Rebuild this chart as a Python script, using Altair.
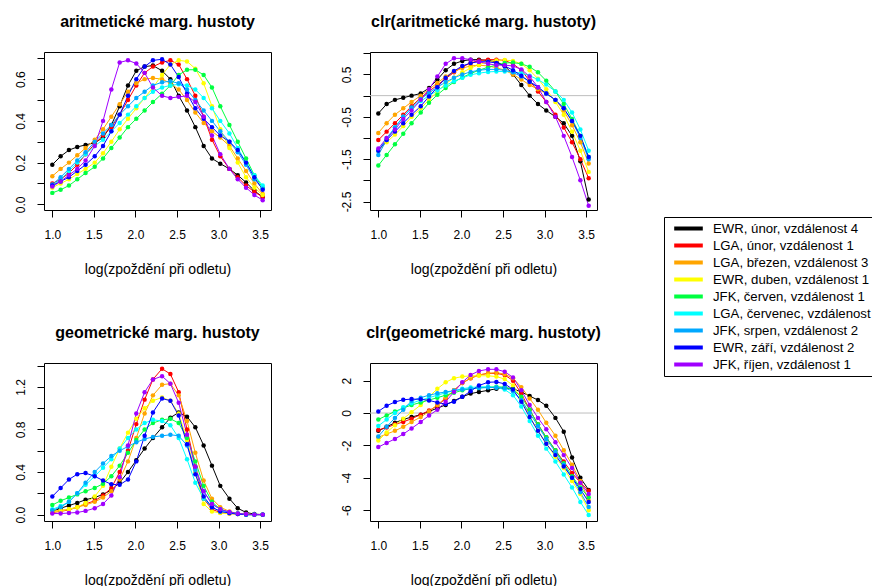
import altair as alt
import pandas as pd

FONT = "Liberation Sans, Arial, Helvetica, sans-serif"

series_names = [
    "EWR, únor, vzdálenost 4",
    "LGA, únor, vzdálenost 1",
    "LGA, březen, vzdálenost 3",
    "EWR, duben, vzdálenost 1",
    "JFK, červen, vzdálenost 1",
    "LGA, červenec, vzdálenost 3",
    "JFK, srpen, vzdálenost 2",
    "EWR, září, vzdálenost 2",
    "JFK, říjen, vzdálenost 1",
]
series_colors = ["#000000", "#FF0000", "#FFA500", "#FFFF00", "#00FF40",
                 "#00FFFF", "#00A8FF", "#0000FF", "#A000FF"]

x_grid = [1.00, 1.10, 1.20, 1.30, 1.40, 1.51, 1.61, 1.71, 1.81, 1.91, 2.01, 2.11, 2.21,
          2.32, 2.42, 2.52, 2.62, 2.72, 2.82, 2.92, 3.02, 3.13, 3.23, 3.33, 3.43, 3.53]
x_ticks = [1.0, 1.5, 2.0, 2.5, 3.0, 3.5]

# aritmetické marg. hustoty (order = series_names)
arit = [
    [0.19, 0.23, 0.26, 0.275, 0.285, 0.295, 0.32, 0.38, 0.47, 0.57, 0.64, 0.66, 0.665, 0.64, 0.60, 0.52, 0.45, 0.37, 0.28, 0.22, 0.195, 0.17, 0.14, 0.105, 0.065, 0.035],
    [0.10, 0.12, 0.15, 0.19, 0.24, 0.29, 0.33, 0.37, 0.43, 0.50, 0.57, 0.63, 0.66, 0.68, 0.69, 0.67, 0.60, 0.52, 0.42, 0.31, 0.23, 0.17, 0.13, 0.09, 0.06, 0.035],
    [0.135, 0.17, 0.20, 0.235, 0.27, 0.31, 0.36, 0.42, 0.48, 0.54, 0.58, 0.60, 0.605, 0.60, 0.58, 0.55, 0.50, 0.44, 0.39, 0.35, 0.32, 0.28, 0.22, 0.16, 0.10, 0.05],
    [0.08, 0.10, 0.12, 0.145, 0.17, 0.20, 0.245, 0.30, 0.36, 0.41, 0.46, 0.51, 0.56, 0.62, 0.67, 0.69, 0.685, 0.65, 0.58, 0.47, 0.36, 0.27, 0.20, 0.13, 0.08, 0.045],
    [0.055, 0.07, 0.09, 0.12, 0.15, 0.18, 0.22, 0.27, 0.32, 0.37, 0.41, 0.45, 0.49, 0.53, 0.57, 0.62, 0.645, 0.645, 0.62, 0.56, 0.47, 0.38, 0.30, 0.22, 0.14, 0.08],
    [0.09, 0.12, 0.16, 0.20, 0.24, 0.28, 0.31, 0.35, 0.39, 0.43, 0.47, 0.51, 0.54, 0.56, 0.57, 0.575, 0.57, 0.55, 0.51, 0.46, 0.40, 0.34, 0.27, 0.20, 0.14, 0.09],
    [0.095, 0.13, 0.17, 0.21, 0.25, 0.30, 0.34, 0.38, 0.43, 0.47, 0.51, 0.54, 0.57, 0.585, 0.59, 0.58, 0.55, 0.50, 0.45, 0.40, 0.35, 0.30, 0.25, 0.19, 0.12, 0.075],
    [0.09, 0.11, 0.13, 0.16, 0.19, 0.23, 0.28, 0.35, 0.43, 0.52, 0.60, 0.66, 0.69, 0.695, 0.67, 0.61, 0.53, 0.46, 0.41, 0.37, 0.33, 0.30, 0.26, 0.20, 0.13, 0.07],
    [0.085, 0.11, 0.14, 0.17, 0.21, 0.28, 0.40, 0.55, 0.68, 0.69, 0.675, 0.63, 0.56, 0.52, 0.51, 0.515, 0.52, 0.49, 0.42, 0.33, 0.24, 0.17, 0.12, 0.08, 0.045, 0.02],
]

# clr(aritmetické marg. hustoty)
clr_arit = [
    [-0.42, -0.20, -0.10, -0.05, 0.00, 0.05, 0.18, 0.38, 0.60, 0.75, 0.82, 0.85, 0.85, 0.83, 0.80, 0.70, 0.50, 0.25, 0.00, -0.20, -0.35, -0.50, -0.65, -0.95, -1.55, -2.45],
    [-1.05, -0.85, -0.65, -0.45, -0.25, -0.05, 0.10, 0.25, 0.40, 0.55, 0.68, 0.77, 0.83, 0.85, 0.85, 0.83, 0.75, 0.60, 0.35, 0.10, -0.15, -0.45, -0.75, -1.10, -1.50, -1.95],
    [-0.88, -0.65, -0.45, -0.30, -0.15, 0.00, 0.15, 0.30, 0.45, 0.57, 0.65, 0.70, 0.72, 0.70, 0.66, 0.60, 0.50, 0.38, 0.25, 0.15, 0.05, -0.10, -0.35, -0.70, -1.10, -1.60],
    [-1.30, -1.10, -0.92, -0.72, -0.50, -0.30, -0.10, 0.10, 0.28, 0.42, 0.55, 0.65, 0.73, 0.80, 0.83, 0.84, 0.82, 0.75, 0.60, 0.40, 0.15, -0.15, -0.45, -0.85, -1.30, -1.80],
    [-1.65, -1.40, -1.15, -0.90, -0.65, -0.40, -0.17, 0.02, 0.18, 0.32, 0.43, 0.52, 0.60, 0.67, 0.72, 0.77, 0.78, 0.75, 0.68, 0.55, 0.35, 0.10, -0.20, -0.55, -0.95, -1.45],
    [-1.30, -1.00, -0.75, -0.50, -0.30, -0.13, 0.00, 0.12, 0.24, 0.34, 0.42, 0.49, 0.53, 0.56, 0.57, 0.57, 0.56, 0.53, 0.47, 0.38, 0.26, 0.10, -0.10, -0.40, -0.80, -1.30],
    [-1.40, -1.05, -0.75, -0.50, -0.28, -0.08, 0.07, 0.20, 0.32, 0.42, 0.50, 0.56, 0.60, 0.62, 0.62, 0.60, 0.55, 0.45, 0.33, 0.20, 0.05, -0.10, -0.30, -0.60, -1.00, -1.50],
    [-1.30, -1.05, -0.85, -0.65, -0.45, -0.25, -0.02, 0.20, 0.42, 0.58, 0.70, 0.77, 0.80, 0.80, 0.77, 0.70, 0.60, 0.47, 0.33, 0.20, 0.05, -0.10, -0.30, -0.60, -0.95, -1.45],
    [-1.25, -1.00, -0.80, -0.55, -0.35, -0.10, 0.15, 0.45, 0.75, 0.88, 0.88, 0.85, 0.80, 0.75, 0.72, 0.72, 0.70, 0.62, 0.45, 0.20, -0.15, -0.50, -0.95, -1.45, -2.00, -2.60],
]

# geometrické marg. hustoty
geom = [
    [0.03, 0.06, 0.085, 0.11, 0.14, 0.16, 0.19, 0.23, 0.30, 0.40, 0.51, 0.62, 0.72, 0.82, 0.91, 0.96, 0.92, 0.82, 0.65, 0.46, 0.27, 0.15, 0.06, 0.02, 0.005, 0.0],
    [0.02, 0.03, 0.045, 0.07, 0.10, 0.13, 0.18, 0.25, 0.40, 0.60, 0.85, 1.08, 1.27, 1.37, 1.32, 1.15, 0.80, 0.45, 0.15, 0.05, 0.02, 0.01, 0.005, 0.0, 0.0, 0.0],
    [0.03, 0.04, 0.05, 0.07, 0.09, 0.12, 0.16, 0.22, 0.33, 0.50, 0.72, 0.95, 1.12, 1.22, 1.23, 1.12, 0.88, 0.58, 0.32, 0.15, 0.07, 0.03, 0.01, 0.005, 0.0, 0.0],
    [0.03, 0.035, 0.05, 0.07, 0.11, 0.17, 0.27, 0.45, 0.62, 0.77, 0.90, 1.00, 1.07, 1.10, 1.07, 0.95, 0.70, 0.40, 0.10, 0.03, 0.015, 0.01, 0.005, 0.0, 0.0, 0.0],
    [0.09, 0.13, 0.16, 0.19, 0.22, 0.25, 0.29, 0.36, 0.46, 0.58, 0.70, 0.80, 0.86, 0.89, 0.90, 0.86, 0.72, 0.50, 0.27, 0.12, 0.05, 0.02, 0.01, 0.0, 0.0, 0.0],
    [0.05, 0.08, 0.12, 0.20, 0.28, 0.36, 0.44, 0.52, 0.62, 0.72, 0.80, 0.86, 0.89, 0.88, 0.84, 0.72, 0.52, 0.30, 0.15, 0.07, 0.03, 0.015, 0.005, 0.0, 0.0, 0.0],
    [0.04, 0.07, 0.12, 0.20, 0.30, 0.40, 0.48, 0.55, 0.60, 0.64, 0.68, 0.71, 0.73, 0.74, 0.75, 0.74, 0.65, 0.42, 0.22, 0.10, 0.05, 0.02, 0.01, 0.0, 0.0, 0.0],
    [0.17, 0.25, 0.33, 0.38, 0.39, 0.36, 0.32, 0.285, 0.28, 0.33, 0.50, 0.74, 0.96, 1.09, 1.07, 0.93, 0.66, 0.38, 0.17, 0.07, 0.03, 0.015, 0.005, 0.0, 0.0, 0.0],
    [0.01, 0.01, 0.015, 0.02, 0.035, 0.06, 0.10, 0.18, 0.35, 0.65, 0.95, 1.15, 1.27, 1.30, 1.23, 1.05, 0.75, 0.45, 0.22, 0.10, 0.05, 0.025, 0.01, 0.005, 0.0, 0.0],
]

# clr(geometrické marg. hustoty)
clr_geom = [
    [-1.10, -0.85, -0.60, -0.40, -0.25, -0.10, 0.10, 0.30, 0.50, 0.75, 1.00, 1.20, 1.30, 1.40, 1.50, 1.55, 1.50, 1.30, 1.05, 0.80, 0.45, -0.30, -1.15, -2.75, -4.00, -4.75],
    [-1.05, -0.90, -0.70, -0.55, -0.35, -0.10, 0.15, 0.45, 0.90, 1.40, 1.85, 2.15, 2.35, 2.45, 2.45, 2.35, 2.00, 1.20, 0.20, -0.70, -1.50, -2.30, -3.00, -3.70, -4.30, -4.80],
    [-1.50, -1.30, -1.10, -0.85, -0.55, -0.25, 0.10, 0.50, 0.95, 1.40, 1.85, 2.15, 2.35, 2.45, 2.50, 2.40, 2.15, 1.60, 0.90, 0.20, -0.60, -1.40, -2.30, -3.20, -4.20, -5.40],
    [-1.70, -1.20, -0.75, -0.35, 0.05, 0.50, 1.00, 1.50, 1.90, 2.15, 2.25, 2.30, 2.30, 2.30, 2.25, 2.10, 1.70, 0.90, -0.20, -1.10, -1.90, -2.70, -3.40, -4.20, -5.00, -6.00],
    [-0.40, -0.15, 0.10, 0.30, 0.50, 0.65, 0.80, 0.95, 1.10, 1.25, 1.40, 1.50, 1.55, 1.60, 1.62, 1.60, 1.45, 1.00, 0.20, -0.70, -1.50, -2.30, -3.10, -3.90, -4.60, -5.20],
    [-0.80, -0.40, 0.00, 0.35, 0.60, 0.80, 0.95, 1.10, 1.25, 1.38, 1.50, 1.58, 1.62, 1.62, 1.58, 1.45, 1.10, 0.40, -0.50, -1.40, -2.20, -3.00, -3.80, -4.60, -5.50, -6.30],
    [-1.45, -0.85, -0.30, 0.20, 0.75, 0.95, 1.10, 1.22, 1.30, 1.38, 1.45, 1.50, 1.55, 1.57, 1.58, 1.55, 1.35, 0.80, 0.00, -0.80, -1.60, -2.40, -3.20, -4.00, -4.90, -5.80],
    [0.10, 0.45, 0.68, 0.82, 0.86, 0.85, 0.78, 0.65, 0.55, 0.70, 1.00, 1.35, 1.70, 1.90, 1.92, 1.80, 1.45, 0.70, -0.25, -1.10, -1.90, -2.60, -3.30, -4.00, -4.70, -5.50],
    [-2.10, -1.85, -1.60, -1.30, -0.95, -0.55, -0.15, 0.20, 0.70, 1.30, 1.90, 2.35, 2.60, 2.70, 2.70, 2.55, 2.20, 1.40, 0.50, -0.30, -1.00, -1.80, -2.60, -3.40, -4.30, -5.00],
]

PANEL_W, PANEL_H = 227, 158
SPACING_H, SPACING_V = 67, 47

legend = alt.Legend(
    title=None, orient="none", legendX=620, legendY=165,
    symbolType="M-2.2,0H2.2", symbolStrokeWidth=4, symbolSize=169,
    labelFont=FONT, labelFontSize=13.2, labelColor="black", labelLimit=400,
    labelOffset=16, symbolOffset=13, rowPadding=0, padding=3,
    strokeColor="black", fillColor="white",
)


def long_df(rows):
    recs = []
    for name, vals in zip(series_names, rows):
        for xv, yv in zip(x_grid, vals):
            recs.append({"x": xv, "y": yv, "serie": name})
    return pd.DataFrame(recs)


def panel(rows, title, ydom, yticks, ylabel_expr, zero=False):
    df = long_df(rows)
    enc_x = alt.X("x:Q", scale=alt.Scale(domain=[0.9, 3.63], nice=False, zero=False),
                  axis=alt.Axis(values=x_ticks, format=".1f", title="log(zpoždění při odletu)",
                                labelFlush=False, labelPadding=12, titlePadding=22))
    enc_y = alt.Y("y:Q", scale=alt.Scale(domain=ydom, nice=False, zero=False),
                  axis=alt.Axis(values=yticks, labelExpr=ylabel_expr, title=None,
                                labelAngle=270, labelAlign="center", labelBaseline="alphabetic",
                                labelPadding=13, labelOverlap=False, labelFlush=False))
    color = alt.Color("serie:N", scale=alt.Scale(domain=series_names, range=series_colors),
                      legend=legend)
    base = alt.Chart(df)
    lines = base.mark_line(strokeWidth=1).encode(x=enc_x, y=enc_y, color=color)
    pts = base.mark_circle(size=20, opacity=1).encode(x=enc_x, y=enc_y, color=color)
    layers = []
    if zero:
        layers.append(alt.Chart(pd.DataFrame({"y": [0.0]})).mark_rule(color="#BEBEBE", strokeWidth=1)
                      .encode(y=enc_y))
    layers += [lines, pts]
    return alt.layer(*layers).properties(
        width=PANEL_W, height=PANEL_H,
        title=alt.TitleParams(title, frame="group", anchor="middle", offset=9,
                              baseline="alphabetic", font=FONT, fontSize=16,
                              fontWeight="bold", color="black"))


lab_even01 = "(round(datum.value*10) % 2 == 0) ? format(datum.value, '.1f') : ''"
lab_odd05 = "(round(datum.value*2) % 2 != 0) ? ((datum.value < 0 ? '-' : '') + format(abs(datum.value), '.1f')) : ''"
lab_even02 = "(round(datum.value*5) % 2 == 0) ? format(datum.value, '.1f') : ''"
lab_int = "(datum.value < 0 ? '-' : '') + format(abs(datum.value), 'd')"

p1 = panel(arit, "aritmetické marg. hustoty", [-0.027, 0.73],
           [0.0, 0.1, 0.2, 0.3, 0.4, 0.5, 0.6, 0.7], lab_even01)
p2 = panel(clr_arit, "clr(aritmetické marg. hustoty)", [-2.70, 1.03],
           [-2.5, -2.0, -1.5, -1.0, -0.5, 0.0, 0.5, 1.0], lab_odd05, zero=True)
p3 = panel(geom, "geometrické marg. hustoty", [-0.06, 1.424],
           [0.0, 0.2, 0.4, 0.6, 0.8, 1.0, 1.2, 1.4], lab_even02)
p4 = panel(clr_geom, "clr(geometrické marg. hustoty)", [-6.67, 3.09],
           [-6, -4, -2, 0, 2], lab_int, zero=True)

row1 = alt.hconcat(p1, p2, spacing=SPACING_H).resolve_scale(x="independent", y="independent", color="shared")
row2 = alt.hconcat(p3, p4, spacing=SPACING_H).resolve_scale(x="independent", y="independent", color="shared")

chart = (
    alt.vconcat(row1, row2, spacing=SPACING_V)
    .resolve_scale(x="independent", y="independent", color="shared")
    .properties(padding={"left": 5, "top": 5, "right": -14, "bottom": 0})
    .configure_view(stroke="black", strokeWidth=1)
    .configure_axis(grid=False, domain=False, ticks=True, tickColor="black", tickWidth=1,
                    tickSize=7, labelFont=FONT, labelFontSize=12, labelColor="black",
                    titleFont=FONT, titleFontSize=14, titleFontWeight="normal", titleColor="black")
)

chart.save("out.html", embed_options={"renderer": "svg", "actions": False})
